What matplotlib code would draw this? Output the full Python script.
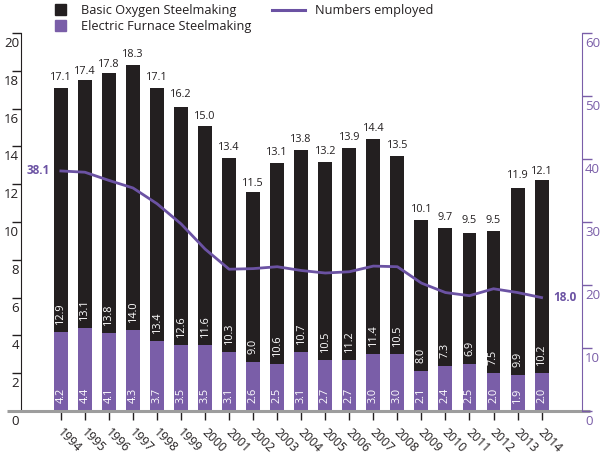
import numpy as np
import matplotlib.pyplot as plt
from matplotlib.patches import Patch
from matplotlib.lines import Line2D

plt.rcParams['font.family'] = ['Open Sans', 'DejaVu Sans']

# ---- data (million tonnes / thousand employees) ----
years = [str(y) for y in range(1994, 2015)]
bos = [12.9, 13.1, 13.8, 14.0, 13.4, 12.6, 11.6, 10.3, 9.0, 10.6, 10.7,
       10.5, 11.2, 11.4, 10.5, 8.0, 7.3, 6.9, 7.5, 9.9, 10.2]
eaf = [4.2, 4.4, 4.1, 4.3, 3.7, 3.5, 3.5, 3.1, 2.6, 2.5, 3.1,
       2.7, 2.7, 3.0, 3.0, 2.1, 2.4, 2.5, 2.0, 1.9, 2.0]
totals = [17.1, 17.4, 17.8, 18.3, 17.1, 16.2, 15.0, 13.4, 11.5, 13.1, 13.8,
          13.2, 13.9, 14.4, 13.5, 10.1, 9.7, 9.5, 9.5, 11.9, 12.1]
employed = [38.1, 37.9, 36.6, 35.4, 32.9, 29.7, 25.7, 22.5, 22.6, 22.9, 22.3,
            21.9, 22.1, 23.0, 22.9, 20.3, 18.8, 18.3, 19.4, 18.8, 18.0]
left_ticks = list(range(0, 21, 2))
right_ticks = list(range(0, 61, 10))

DARK = '#231f20'
PURPLE = '#7a5ea8'
LINE = '#6b52a3'
GREY = '#9d9d9d'

fig = plt.figure(figsize=(6.03, 4.57), dpi=100)
ax = fig.add_axes([0.0348, 0.1007, 0.9303, 0.8271])
x = np.arange(len(years))

ax.bar(x, eaf, width=0.58, color=PURPLE, zorder=2)
ax.bar(x, bos, width=0.58, bottom=eaf, color=DARK, zorder=2)

for i in range(len(years)):
    ax.annotate(f'{totals[i]:.1f}', (x[i], totals[i]), xytext=(0, 5),
                textcoords='offset pixels', ha='center', va='bottom',
                fontsize=7.8, color=DARK)
    ax.annotate(f'{bos[i]:.1f}', (x[i], eaf[i]), xytext=(0, 8),
                textcoords='offset pixels', ha='center', va='bottom',
                rotation=90, fontsize=7.8, color='white')
    ax.annotate(f'{eaf[i]:.1f}', (x[i], 0), xytext=(0, 8),
                textcoords='offset pixels', ha='center', va='bottom',
                rotation=90, fontsize=7.8, color='white')

ax.set_xlim(-1.66, 21.68)
ax.set_ylim(0, 20)
ax.set_xticks(x)
ax.set_yticks(left_ticks)
ax.tick_params(axis='x', length=6.5, width=1, color=DARK, labelbottom=False)
ax.tick_params(axis='y', length=6.5, width=1, color=DARK, labelleft=False)
for s in ['top', 'right', 'bottom']:
    ax.spines[s].set_visible(False)
ax.spines['left'].set_color(DARK)

# tick labels sit just below their tick marks
for v in left_ticks:
    ax.annotate(str(v), (0, v), xycoords=('axes fraction', 'data'),
                xytext=(-2, -4), textcoords='offset pixels',
                ha='right', va='top', fontsize=9.5, color=DARK)
for i, yr in enumerate(years):
    ax.annotate(yr, (x[i], 0), xycoords=('data', 'axes fraction'),
                xytext=(-6, -15), textcoords='offset pixels',
                ha='left', va='top', rotation=-45, fontsize=8.8, color=DARK)

# grey baseline
ax.plot([-0.025, 1.014], [0, 0], transform=ax.transAxes, color=GREY,
        lw=2.2, clip_on=False, zorder=4, solid_capstyle='butt')

# ---- employment line on right axis ----
ax2 = ax.twinx()
ax2.plot(x, employed, color=LINE, lw=2.0, zorder=5)
ax2.set_ylim(0, 60)
ax2.set_yticks(right_ticks)
ax2.tick_params(axis='y', length=7, width=1, color=PURPLE, labelright=False)
for s in ['top', 'left', 'bottom']:
    ax2.spines[s].set_visible(False)
ax2.spines['right'].set_color(PURPLE)
for v in right_ticks:
    ax2.annotate(str(v), (1, v), xycoords=('axes fraction', 'data'),
                 xytext=(3, -4), textcoords='offset pixels',
                 ha='left', va='top', fontsize=9.5, color=PURPLE)

ax2.annotate(f'{employed[0]:.1f}', (x[0], employed[0]), xytext=(-11, 0),
             textcoords='offset pixels', ha='right', va='center',
             fontsize=8.5, fontweight='bold', color=LINE)
ax2.annotate(f'{employed[-1]:.1f}', (x[-1], employed[-1]), xytext=(12, 0),
             textcoords='offset pixels', ha='left', va='center',
             fontsize=8.5, fontweight='bold', color=LINE)

# ---- legends ----
bar_handles = [Patch(color=DARK, label='Basic Oxygen Steelmaking'),
               Patch(color=PURPLE, label='Electric Furnace Steelmaking')]
fig.legend(handles=bar_handles, loc='upper left',
           bbox_to_anchor=(55 / 603, 1 - 4 / 457), frameon=False,
           fontsize=9.2, labelcolor=DARK, handlelength=0.86, handleheight=0.86,
           handletextpad=1.17, labelspacing=0.22, borderpad=0, borderaxespad=0)
line_handles = [Line2D([], [], color=LINE, lw=2.2, label='Numbers employed')]
fig.legend(handles=line_handles, loc='upper left',
           bbox_to_anchor=(272 / 603, 1 - 4 / 457), frameon=False,
           fontsize=9.2, labelcolor=DARK, handlelength=2.6,
           handletextpad=0.78, borderpad=0, borderaxespad=0)

fig.savefig('out.png', dpi=100)
